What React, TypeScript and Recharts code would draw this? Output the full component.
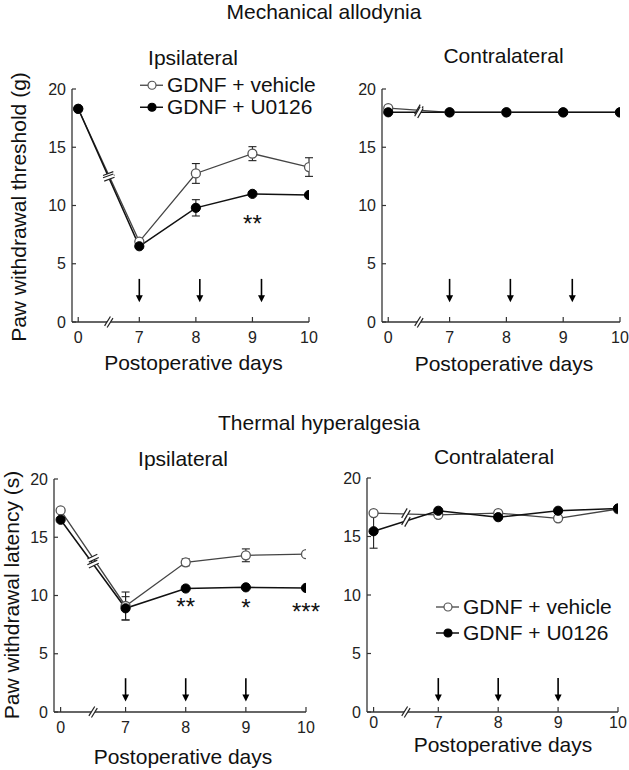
import React from 'react';
import { LineChart, Line, XAxis, YAxis, ErrorBar, ReferenceLine, ReferenceDot, Legend } from 'recharts';

const FONT = "'Liberation Sans', Arial, Helvetica, sans-serif";

// ---------- data ----------
const DAYS = [0, 7, 8, 9, 10];
const SERIES_NAMES = ['GDNF + vehicle', 'GDNF + U0126'];
const Y_TICKS = [0, 5, 10, 15, 20];
const X_LABEL = 'Postoperative days';
const SECTION_TITLES = ['Mechanical allodynia', 'Thermal hyperalgesia'];
const PANEL_TITLES = ['Ipsilateral', 'Contralateral'];
const Y_LABELS = ['Paw withdrawal threshold (g)', 'Paw withdrawal latency (s)'];

// Mechanical allodynia – ipsilateral
const mechIpsiVeh = [18.3, 6.9, 12.75, 14.45, 13.3];
const mechIpsiVehErr = [0, 0, 0.85, 0.6, 0.8];
const mechIpsiU = [18.3, 6.5, 9.8, 11.0, 10.9];
const mechIpsiUErr = [0, 0, 0.7, 0, 0];
const mechIpsiStars = [{ day: 9, value: 8.9, mark: '**' }];

// Mechanical allodynia – contralateral
const mechContraVeh = [18.35, 18.0, 18.0, 18.0, 18.0];
const mechContraVehErr = [0, 0, 0, 0, 0];
const mechContraU = [18.0, 18.0, 18.0, 18.0, 18.0];
const mechContraUErr = [0, 0, 0, 0, 0];

const mechArrowDays = [7, 8.07, 9.16];
const mechArrowSpan = [3.7, 1.7];

// Thermal hyperalgesia – ipsilateral
const thermIpsiVeh = [17.3, 9.1, 12.85, 13.45, 13.55];
const thermIpsiVehErr = [0, 1.2, 0.3, 0.55, 0];
const thermIpsiU = [16.5, 8.9, 10.6, 10.7, 10.65];
const thermIpsiUErr = [0, 1.0, 0, 0, 0];
const thermIpsiStars = [
  { day: 8, value: 9.5, mark: '**' },
  { day: 9, value: 9.4, mark: '*' },
  { day: 10, value: 9.1, mark: '***' },
];

// Thermal hyperalgesia – contralateral
const thermContraVeh = [17.0, 16.85, 17.0, 16.55, 17.35];
const thermContraVehErr = [0, 0, 0, 0, 0];
const thermContraU = [15.45, 17.2, 16.65, 17.2, 17.4];
const thermContraUErr = [1.45, 0, 0, 0, 0];

const thermArrowDays = [7, 8, 9];
const thermArrowSpan = [2.9, 0.9];

// ---------- broken x scale ----------
const BREAK_GAP = 1.08;
const toPos = (d: number) => (d === 0 ? 0 : d - 7 + BREAK_GAP);
const X_DOMAIN: [number, number] = [-0.11, 4.08];

// ---------- styles ----------
const VEH_STYLE = { stroke: '#444', strokeWidth: 1.3, dotFill: '#fff', dotStroke: '#555' };
const U_STYLE = { stroke: '#111', strokeWidth: 1.5, dotFill: '#000', dotStroke: '#000' };

const BreakMark = ({ cx, cy, angle, len = 11, gap = 3.5 }: any) => {
  if (cx == null || cy == null) return null;
  return (
    <g transform={`translate(${cx},${cy}) rotate(${angle})`}>
      <rect x={-len / 2} y={-gap / 2} width={len} height={gap} fill="#fff" />
      <line x1={-len / 2} y1={-gap / 2} x2={len / 2} y2={-gap / 2} stroke="#222" strokeWidth={1.2} />
      <line x1={-len / 2} y1={gap / 2} x2={len / 2} y2={gap / 2} stroke="#222" strokeWidth={1.2} />
    </g>
  );
};

const Arrow = (p: any) => {
  const { x1, y1, x2, y2 } = p;
  if (x1 == null) return null;
  const head = 7;
  const hw = 3.5;
  return (
    <g>
      <line x1={x1} y1={y1} x2={x2} y2={y2 - head + 1} stroke="#000" strokeWidth={1.6} />
      <polygon points={`${x2 - hw},${y2 - head} ${x2 + hw},${y2 - head} ${x2},${y2}`} fill="#000" />
    </g>
  );
};

const StarText = ({ cx, cy, mark }: any) => {
  if (cx == null) return null;
  const fs = 24;
  return (
    <text x={cx} y={cy + 0.57 * fs} textAnchor="middle" fontSize={fs} fontFamily={FONT} fill="#111">
      {mark}
    </text>
  );
};

const LegendBox = ({ rowGap }: { rowGap: number }) => (
  <div style={{ fontFamily: FONT, fontSize: 21, color: '#111', whiteSpace: 'nowrap' }}>
    {SERIES_NAMES.map((name, i) => {
      const st = i === 0 ? VEH_STYLE : U_STYLE;
      return (
        <div key={name} style={{ display: 'flex', alignItems: 'center', height: rowGap, lineHeight: `${rowGap}px` }}>
          <svg width={27} height={rowGap} style={{ display: 'block' }}>
            <line x1={0} y1={rowGap / 2} x2={23} y2={rowGap / 2} stroke={st.stroke} strokeWidth={st.strokeWidth} />
            <circle cx={12} cy={rowGap / 2} r={4} fill={st.dotFill} stroke={st.dotStroke} strokeWidth={1.2} />
          </svg>
          <span>{name}</span>
        </div>
      );
    })}
  </div>
);

type Cfg = {
  left: number; top: number; width: number; height: number;
  plotLeft: number; plotRight: number; plotTop: number; plotBottom: number;
  tickDy: number; xLabelCx: number; xLabelBaseline: number;
  yLabelCx?: number; yLabelCy?: number; breakAngle: number;
  legend?: { left: number; top: number; rowGap: number };
};

function Panel(props: any) {
  const { cfg, veh, vehErr, u, uErr, stars, arrowDays, arrowSpan, yLabel } = props as {
    cfg: Cfg; veh: number[]; vehErr: number[]; u: number[]; uErr: number[];
    stars: { day: number; value: number; mark: string }[]; arrowDays: number[]; arrowSpan: number[]; yLabel?: string;
  };
  const data = DAYS.map((d, i) => ({ pos: toPos(d), veh: veh[i], vehErr: vehErr[i], u: u[i], uErr: uErr[i] }));
  const xAxisHeight = cfg.top + cfg.height - cfg.plotBottom;
  const yAxisWidth = cfg.plotLeft - cfg.left;
  const margin = { top: cfg.plotTop - cfg.top, bottom: 0, left: 0, right: cfg.left + cfg.width - cfg.plotRight };
  const midX = (toPos(DAYS[0]) + toPos(DAYS[1])) / 2;
  const midVeh = (veh[0] + veh[1]) / 2;
  const midU = (u[0] + u[1]) / 2;

  const XTick = (tp: any) => {
    const { x, y, payload } = tp;
    const day = DAYS.find((d) => Math.abs(toPos(d) - payload.value) < 1e-6);
    return (
      <g>
        <line x1={x} y1={y} x2={x} y2={y - 5} stroke="#333" strokeWidth={1.2} />
        <text x={x} y={y + cfg.tickDy} textAnchor="middle" fontSize={16} fontFamily={FONT} fill="#222">
          {day}
        </text>
      </g>
    );
  };
  const YTick = (tp: any) => {
    const { x, y, payload } = tp;
    return (
      <g>
        <line x1={x} y1={y} x2={x + 4} y2={y} stroke="#333" strokeWidth={1.2} />
        <text x={x - 6} y={y + 5.5} textAnchor="end" fontSize={16} fontFamily={FONT} fill="#222">
          {payload.value}
        </text>
      </g>
    );
  };

  return (
    <div style={{ position: 'absolute', left: cfg.left, top: cfg.top }}>
      <LineChart width={cfg.width} height={cfg.height} data={data} margin={margin}>
        <XAxis
          dataKey="pos"
          type="number"
          domain={X_DOMAIN}
          allowDataOverflow
          ticks={DAYS.map(toPos)}
          interval={0}
          tick={XTick}
          tickLine={false}
          tickSize={0}
          tickMargin={0}
          height={xAxisHeight}
          axisLine={{ stroke: '#333', strokeWidth: 1.3 }}
          label={() => (
            <text
              x={cfg.xLabelCx - cfg.left}
              y={cfg.xLabelBaseline - cfg.top}
              textAnchor="middle"
              fontSize={21}
              fontFamily={FONT}
              fill="#111"
            >
              {X_LABEL}
            </text>
          )}
        />
        <YAxis
          type="number"
          domain={[0, 20]}
          ticks={Y_TICKS}
          interval={0}
          tick={YTick}
          tickLine={false}
          tickSize={0}
          tickMargin={0}
          width={yAxisWidth}
          axisLine={{ stroke: '#333', strokeWidth: 1.3 }}
          label={
            yLabel
              ? () => (
                  <text
                    transform={`translate(${(cfg.yLabelCx as number) - cfg.left},${(cfg.yLabelCy as number) - cfg.top}) rotate(-90)`}
                    textAnchor="middle"
                    dy="0.36em"
                    fontSize={21}
                    fontFamily={FONT}
                    fill="#111"
                  >
                    {yLabel}
                  </text>
                )
              : undefined
          }
        />
        <Line
          type="linear"
          dataKey="veh"
          name={SERIES_NAMES[0]}
          stroke={VEH_STYLE.stroke}
          strokeWidth={VEH_STYLE.strokeWidth}
          dot={{ r: 4.5, fill: VEH_STYLE.dotFill, stroke: VEH_STYLE.dotStroke, strokeWidth: 1.3 }}
          activeDot={false}
          isAnimationActive={false}
        >
          <ErrorBar dataKey="vehErr" width={4} stroke="#222" strokeWidth={1.1} direction="y" />
        </Line>
        <Line
          type="linear"
          dataKey="u"
          name={SERIES_NAMES[1]}
          stroke={U_STYLE.stroke}
          strokeWidth={U_STYLE.strokeWidth}
          dot={{ r: 4.6, fill: U_STYLE.dotFill, stroke: U_STYLE.dotStroke, strokeWidth: 1 }}
          activeDot={false}
          isAnimationActive={false}
        >
          <ErrorBar dataKey="uErr" width={4} stroke="#222" strokeWidth={1.1} direction="y" />
        </Line>
        <ReferenceDot x={midX} y={midVeh} r={0} ifOverflow="visible" shape={(p: any) => <BreakMark cx={p.cx} cy={p.cy} angle={cfg.breakAngle} />} />
        <ReferenceDot x={midX} y={midU} r={0} ifOverflow="visible" shape={(p: any) => <BreakMark cx={p.cx} cy={p.cy} angle={cfg.breakAngle} />} />
        <ReferenceDot x={midX} y={0} r={0} ifOverflow="visible" shape={(p: any) => <BreakMark cx={p.cx} cy={p.cy} angle={-58} len={11} gap={3} />} />
        {arrowDays.map((d) => (
          <ReferenceLine
            key={`a${d}`}
            segment={[{ x: toPos(d), y: arrowSpan[0] }, { x: toPos(d), y: arrowSpan[1] }]}
            ifOverflow="visible"
            shape={Arrow}
          />
        ))}
        {stars.map((s) => (
          <ReferenceDot key={`s${s.day}`} x={toPos(s.day)} y={s.value} r={0} ifOverflow="visible" shape={(p: any) => <StarText cx={p.cx} cy={p.cy} mark={s.mark} />} />
        ))}
        {cfg.legend ? (
          <Legend
            layout="vertical"
            align="center"
            verticalAlign="middle"
            wrapperStyle={{ left: cfg.legend.left - cfg.left, top: cfg.legend.top - cfg.top, width: 200 }}
            content={() => <LegendBox rowGap={(cfg.legend as any).rowGap} />}
          />
        ) : null}
      </LineChart>
    </div>
  );
}

const CFG_TL: Cfg = {
  left: 0, top: 0, width: 320, height: 380,
  plotLeft: 72, plotRight: 309, plotTop: 89, plotBottom: 322,
  tickDy: 21, xLabelCx: 193.5, xLabelBaseline: 370, yLabelCx: 18, yLabelCy: 207, breakAngle: -20,
  legend: { left: 140, top: 73.5, rowGap: 22.5 },
};
const CFG_TR: Cfg = {
  left: 310, top: 0, width: 319, height: 380,
  plotLeft: 382, plotRight: 620, plotTop: 89, plotBottom: 322,
  tickDy: 21, xLabelCx: 504, xLabelBaseline: 371, breakAngle: -60,
};
const CFG_BL: Cfg = {
  left: 0, top: 380, width: 320, height: 390,
  plotLeft: 54, plotRight: 306, plotTop: 479, plotBottom: 712,
  tickDy: 21, xLabelCx: 183, xLabelBaseline: 764, yLabelCx: 11.5, yLabelCy: 595, breakAngle: -25,
};
const CFG_BR: Cfg = {
  left: 310, top: 380, width: 319, height: 390,
  plotLeft: 367, plotRight: 618, plotTop: 478, plotBottom: 712,
  tickDy: 16, xLabelCx: 503, xLabelBaseline: 752, breakAngle: -60,
  legend: { left: 436, top: 594, rowGap: 26 },
};

const TITLE_POS = [
  { text: SECTION_TITLES[0], x: 324, y: 19 },
  { text: PANEL_TITLES[0], x: 193, y: 65 },
  { text: PANEL_TITLES[1], x: 503.5, y: 63 },
  { text: SECTION_TITLES[1], x: 319, y: 430 },
  { text: PANEL_TITLES[0], x: 183, y: 466 },
  { text: PANEL_TITLES[1], x: 494, y: 464 },
];

export default function App() {
  return (
    <div style={{ position: 'absolute', left: 0, top: 0, width: 629, height: 770, background: '#fff', overflow: 'hidden', fontFamily: FONT }}>
      <svg width={629} height={770} style={{ position: 'absolute', left: 0, top: 0 }}>
        {TITLE_POS.map((t, i) => (
          <text key={i} x={t.x} y={t.y} textAnchor="middle" fontSize={21} fontFamily={FONT} fill="#111">
            {t.text}
          </text>
        ))}
      </svg>
      <Panel cfg={CFG_TL} veh={mechIpsiVeh} vehErr={mechIpsiVehErr} u={mechIpsiU} uErr={mechIpsiUErr}
        stars={mechIpsiStars} arrowDays={mechArrowDays} arrowSpan={mechArrowSpan} yLabel={Y_LABELS[0]} />
      <Panel cfg={CFG_TR} veh={mechContraVeh} vehErr={mechContraVehErr} u={mechContraU} uErr={mechContraUErr}
        stars={[]} arrowDays={mechArrowDays} arrowSpan={mechArrowSpan} />
      <Panel cfg={CFG_BL} veh={thermIpsiVeh} vehErr={thermIpsiVehErr} u={thermIpsiU} uErr={thermIpsiUErr}
        stars={thermIpsiStars} arrowDays={thermArrowDays} arrowSpan={thermArrowSpan} yLabel={Y_LABELS[1]} />
      <Panel cfg={CFG_BR} veh={thermContraVeh} vehErr={thermContraVehErr} u={thermContraU} uErr={thermContraUErr}
        stars={[]} arrowDays={thermArrowDays} arrowSpan={thermArrowSpan} />
    </div>
  );
}
